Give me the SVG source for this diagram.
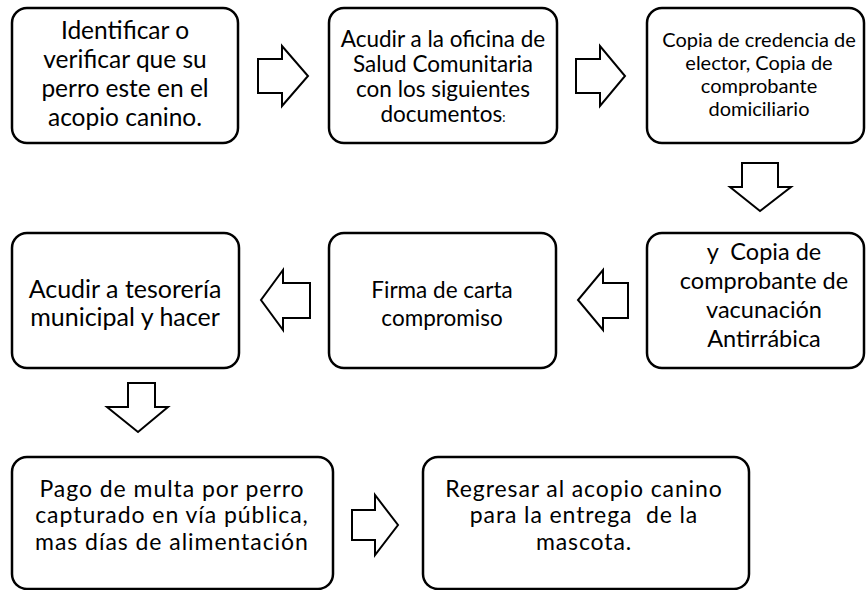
<svg xmlns="http://www.w3.org/2000/svg" width="866" height="590" viewBox="0 0 866 590">
<style>
.box{fill:#fff;stroke:#000;stroke-width:2.5}
.arr{fill:#fff;stroke:#000;stroke-width:2;stroke-linejoin:miter}
text{font-family:Lato,"Open Sans","Liberation Sans",sans-serif;fill:#000;text-anchor:middle}
</style>
<rect width="866" height="590" fill="#fff"/>
<g id="connectors">
<polygon class="arr" points="258,59 282,59 282,46 308,76 282,106 282,93 258,93"/>
<polygon class="arr" points="576,59 600,59 600,46 625,76 600,106 600,93 576,93"/>
<polygon class="arr" points="742,163 778,163 778,187 791,187 760,211 730,187 742,187"/>
<polygon class="arr" points="628,283 603,283 603,270 578,300 603,330 603,318 628,318"/>
<polygon class="arr" points="310,283 283,283 283,270 261,300 283,330 283,318 310,318"/>
<polygon class="arr" points="128,383 155,383 155,407 168,407 138,432 107,407 128,407"/>
<polygon class="arr" points="352,510 375,510 375,495 398,525 375,555 375,540 352,540"/>
</g>
<g id="n1">
<rect class="box" x="12" y="8" width="226" height="135" rx="15"/>
<text font-size="24.5"><tspan x="125" y="39">Identificar o</tspan><tspan x="125" y="68">verificar que su</tspan><tspan x="125" y="97">perro este en el</tspan><tspan x="125" y="126">acopio canino.</tspan></text>
</g>
<g id="n2">
<rect class="box" x="329" y="8" width="228" height="135" rx="15"/>
<text font-size="22.5"><tspan x="443" y="47">Acudir a la oficina de</tspan><tspan x="443" y="72">Salud Comunitaria</tspan><tspan x="443" y="97">con los siguientes</tspan><tspan x="443" y="122">documentos<tspan font-size="13">:</tspan></tspan></text>
</g>
<g id="n3">
<rect class="box" x="647" y="8" width="217" height="135" rx="15"/>
<text font-size="20"><tspan x="759" y="47">Copia de credencia de</tspan><tspan x="759" y="70">elector, Copia de</tspan><tspan x="759" y="93">comprobante</tspan><tspan x="759" y="116">domiciliario</tspan></text>
</g>
<g id="n4">
<rect class="box" x="647" y="233" width="217" height="135" rx="15"/>
<text font-size="23.5" xml:space="preserve"><tspan x="764" y="260">y  Copia de</tspan><tspan x="764" y="289">comprobante de</tspan><tspan x="764" y="318">vacunación</tspan><tspan x="764" y="347">Antirrábica</tspan></text>
</g>
<g id="n5">
<rect class="box" x="329" y="233" width="227" height="135" rx="15"/>
<text font-size="22.5"><tspan x="442" y="298">Firma de carta</tspan><tspan x="442" y="326">compromiso</tspan></text>
</g>
<g id="n6">
<rect class="box" x="12" y="233" width="227" height="135" rx="15"/>
<text font-size="25"><tspan x="125" y="298">Acudir a tesorería</tspan><tspan x="125" y="326">municipal y hacer</tspan></text>
</g>
<g id="n7">
<rect class="box" x="12" y="457" width="321" height="132" rx="15"/>
<text font-size="23" letter-spacing="0.95"><tspan x="172" y="497">Pago de multa por perro</tspan><tspan x="172" y="523">capturado en vía pública,</tspan><tspan x="172" y="550">mas días de alimentación</tspan></text>
</g>
<g id="n8">
<rect class="box" x="423" y="457" width="326" height="132" rx="15"/>
<text font-size="23" letter-spacing="0.9" xml:space="preserve"><tspan x="584" y="497">Regresar al acopio canino</tspan><tspan x="584" y="523">para la entrega  de la</tspan><tspan x="584" y="550">mascota.</tspan></text>
</g>
</svg>
